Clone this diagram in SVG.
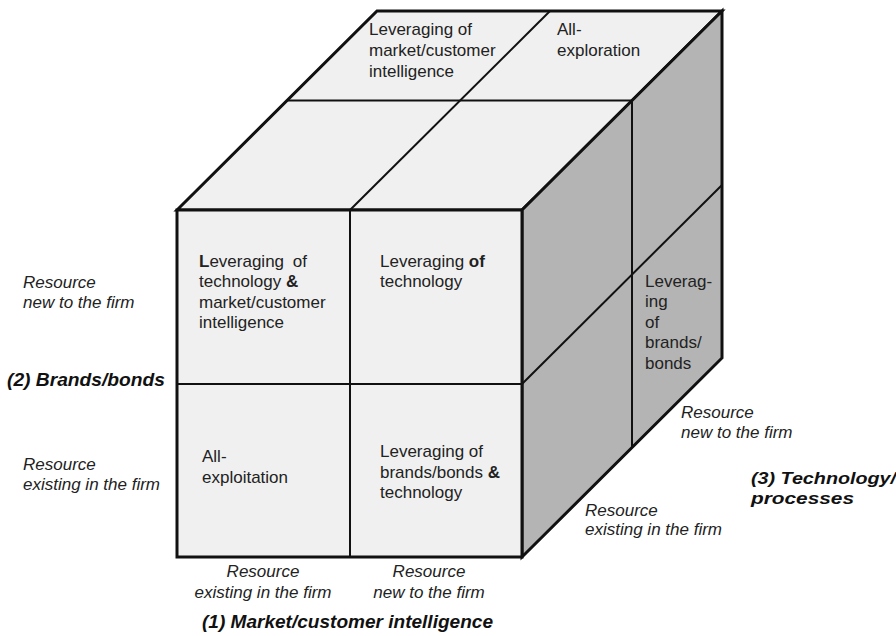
<svg xmlns="http://www.w3.org/2000/svg" width="896" height="636" viewBox="0 0 896 636">
<style>
.face{fill:#f0f0f0;stroke:#111;stroke-width:3;stroke-linejoin:miter}
.side{fill:#b4b4b4;stroke:#111;stroke-width:3;stroke-linejoin:miter}
.div{stroke:#111;stroke-width:2;fill:none}
.t{font-family:"Liberation Sans",Arial,sans-serif;font-size:17px;fill:#222}
.it{font-family:"Liberation Sans",Arial,sans-serif;font-size:17px;font-style:italic;fill:#222}
.bi{font-family:"Liberation Sans",Arial,sans-serif;font-size:18px;font-style:italic;font-weight:bold;fill:#111}
.bs{font-size:16px}
.b{font-weight:bold}
</style>
<rect width="896" height="636" fill="#ffffff"/>
<g id="cube">
  <polygon class="face" points="177,210 377,11 722,11 522,210"/>
  <polygon class="side" points="522,210 722,11 722,358 522,557"/>
  <rect class="face" x="177" y="210" width="345" height="347"/>
</g>
<g id="connectors">
  <line class="div" x1="287" y1="100.5" x2="632" y2="100.5"/>
  <line class="div" x1="350" y1="210" x2="550" y2="11"/>
  <line class="div" x1="632" y1="100.5" x2="632" y2="447.5"/>
  <line class="div" x1="522" y1="384" x2="722" y2="185"/>
  <line class="div" x1="350" y1="210" x2="350" y2="557"/>
  <line class="div" x1="177" y1="384" x2="522" y2="384"/>
</g>
<g id="top-left">
  <text class="t" x="369" y="35">Leveraging of</text>
  <text class="t" x="369" y="56">market/customer</text>
  <text class="t" x="369" y="77">intelligence</text>
</g>
<g id="top-right">
  <text class="t" x="557" y="35">All-</text>
  <text class="t" x="557" y="56">exploration</text>
</g>
<g id="front-top-left">
  <text class="t" x="199" y="267"><tspan class="b">L</tspan>everaging <tspan dx="4">of</tspan></text>
  <text class="t" x="199" y="287">technology <tspan class="b">&amp;</tspan></text>
  <text class="t" x="199" y="307.5">market/customer</text>
  <text class="t" x="199" y="328">intelligence</text>
</g>
<g id="front-top-right">
  <text class="t" x="380" y="267">Leveraging <tspan class="b">of</tspan></text>
  <text class="t" x="380" y="287">technology</text>
</g>
<g id="front-bottom-left">
  <text class="t" x="202" y="462">All-</text>
  <text class="t" x="202" y="483">exploitation</text>
</g>
<g id="front-bottom-right">
  <text class="t" x="380" y="457">Leveraging of</text>
  <text class="t" x="380" y="477.5">brands/bonds <tspan class="b">&amp;</tspan></text>
  <text class="t" x="380" y="498">technology</text>
</g>
<g id="side-cell">
  <text class="t" x="645" y="287">Leverag-</text>
  <text class="t" x="645" y="307">ing</text>
  <text class="t" x="645" y="328">of</text>
  <text class="t" x="645" y="348">brands/</text>
  <text class="t" x="645" y="368.5">bonds</text>
</g>
<g id="axis2-labels">
  <text class="it" x="23" y="288">Resource</text>
  <text class="it" x="23" y="308">new to the firm</text>
  <text class="bi" x="7" y="386" textLength="158" lengthAdjust="spacingAndGlyphs">(2) Brands/bonds</text>
  <text class="it" x="23" y="470">Resource</text>
  <text class="it" x="23" y="490">existing in the firm</text>
</g>
<g id="axis1-labels">
  <text class="it" x="263" y="577" text-anchor="middle">Resource</text>
  <text class="it" x="263" y="598" text-anchor="middle">existing in the firm</text>
  <text class="it" x="429" y="577" text-anchor="middle">Resource</text>
  <text class="it" x="429" y="598" text-anchor="middle">new to the firm</text>
  <text class="bi" x="202" y="628" textLength="291" lengthAdjust="spacingAndGlyphs">(1) Market/customer intelligence</text>
</g>
<g id="axis3-labels">
  <text class="it" x="681" y="418">Resource</text>
  <text class="it" x="681" y="438">new to the firm</text>
  <text class="it" x="585" y="516">Resource</text>
  <text class="it" x="585" y="535">existing in the firm</text>
  <text class="bi bs" x="751" y="484" textLength="145" lengthAdjust="spacingAndGlyphs">(3) Technology/</text>
  <text class="bi bs" x="751" y="504" textLength="103" lengthAdjust="spacingAndGlyphs">processes</text>
</g>
</svg>
